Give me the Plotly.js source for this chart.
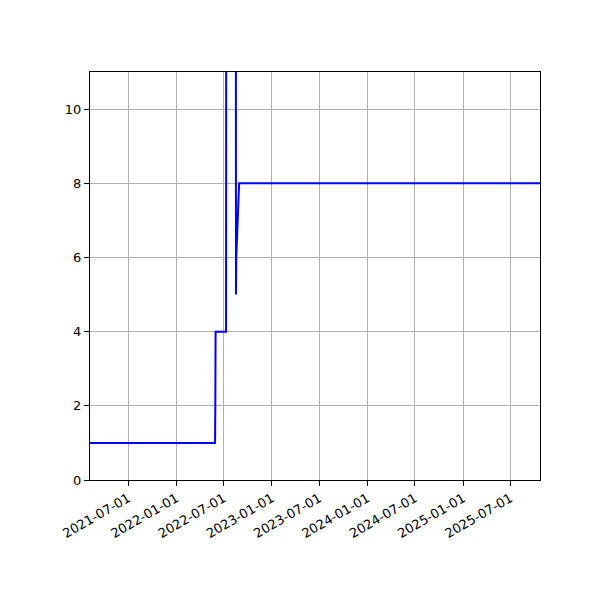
<!DOCTYPE html>
<html>
<head>
<meta charset="utf-8">
<script src="https://cdn.plot.ly/plotly-3.0.1.min.js"></script>
<style>
  body { margin: 0; background: #fff; }
  #chart { width: 600px; height: 600px; }
</style>
</head>
<body>
<div id="chart"></div>
<script>
// readings
const dates = [
  "2021-02-05", "2022-05-29", "2022-05-30", "2022-05-31",
  "2022-07-10", "2022-07-11", "2022-08-16", "2022-08-17",
  "2022-08-18", "2022-08-29", "2025-10-22"
];
const values = [1, 1, 2, 4, 4, 20, 20, 5, 6, 8, 8];

const tickDates = [
  "2021-07-01", "2022-01-01", "2022-07-01", "2023-01-01", "2023-07-01",
  "2024-01-01", "2024-07-01", "2025-01-01", "2025-07-01"
];
const yTicks = [0, 2, 4, 6, 8, 10];

const chartDiv = document.getElementById("chart");

const data = [
  {
    x: dates,
    y: values,
    type: "scatter",
    mode: "lines",
    line: { color: "blue", width: 2 },
    hoverinfo: "skip",
  },
];

const axisStyle = {
  showline: true,
  mirror: true,
  linecolor: "black",
  linewidth: 1,
  ticks: "outside",
  ticklen: 5,
  tickcolor: "black",
  showgrid: true,
  gridcolor: "#b0b0b0",
  gridwidth: 1,
  zeroline: false,
  tickfont: { family: "DejaVu Sans", size: 13, color: "black" },
};

const layout = {
  width: 600,
  height: 600,
  margin: { l: 90, r: 60, t: 72, b: 120 },
  paper_bgcolor: "white",
  plot_bgcolor: "white",
  showlegend: false,
  xaxis: {
    ...axisStyle,
    type: "date",
    range: [dates[0], dates[dates.length - 1]],
    tickmode: "array",
    tickvals: tickDates,
    ticktext: tickDates,
    tickangle: -30,
  },
  yaxis: {
    ...axisStyle,
    range: [0, 11],
    tickmode: "array",
    tickvals: yTicks,
    ticktext: yTicks.map(String),
  },
};

Plotly.newPlot(chartDiv, data, layout, { staticPlot: true });
</script>
</body>
</html>
